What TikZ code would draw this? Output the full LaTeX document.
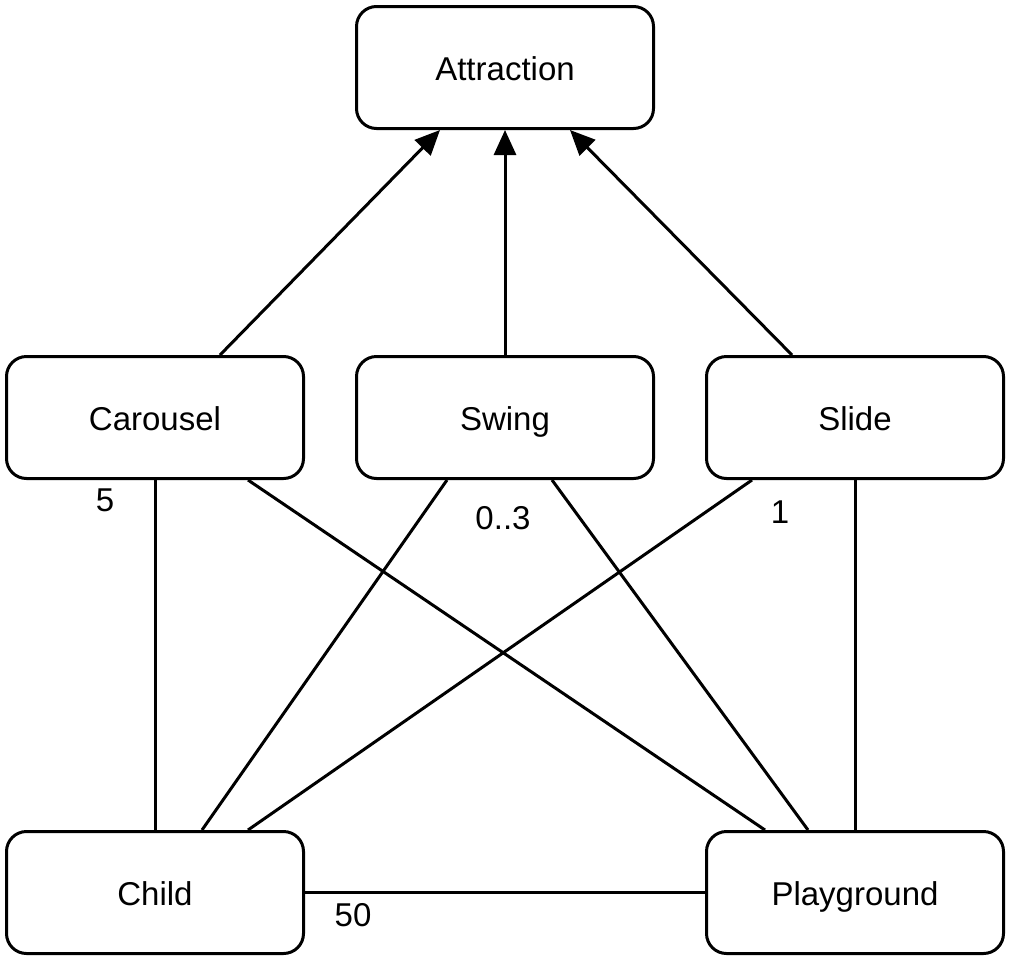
\documentclass[tikz,border=0pt]{standalone}
\usepackage{fontspec}
\setmainfont{Liberation Sans}
\usetikzlibrary{arrows.meta}
\begin{document}
\begin{tikzpicture}[x=1pt,y=-1pt,
  box/.style={draw=black, line width=3pt, rounded corners=20pt, minimum width=297pt, minimum height=122pt, inner sep=0pt, text height=30pt, text depth=5pt, font=\fontsize{33}{39}\selectfont},
  conn/.style={draw=black, line width=3pt},
  inh/.style={conn, -{Triangle[length=25pt,width=22pt]}},
  lbl/.style={font=\fontsize{33}{39}\selectfont, inner sep=0pt}]
\useasboundingbox (0,0) rectangle (1011,961);
\node[box] (attr) at (505,67.5) {Attraction};
\node[box] (car) at (155,417.5) {Carousel};
\node[box] (swing) at (505,417.5) {Swing};
\node[box] (slide) at (855,417.5) {Slide};
\node[box] (child) at (155,892.5) {Child};
\node[box] (play) at (855,892.5) {Playground};
\draw[inh] ([xshift=65pt]car.north) -- ([xshift=-65pt]attr.south);
\draw[inh] (swing.north) -- (attr.south);
\draw[inh] ([xshift=-63pt]slide.north) -- ([xshift=65pt]attr.south);
\draw[conn] (car.south) -- (child.north);
\draw[conn] ([xshift=93pt]car.south) -- ([xshift=-90pt]play.north);
\draw[conn] ([xshift=-58pt]swing.south) -- ([xshift=47pt]child.north);
\draw[conn] ([xshift=47pt]swing.south) -- ([xshift=-47pt]play.north);
\draw[conn] ([xshift=-103pt]slide.south) -- ([xshift=93pt]child.north);
\draw[conn] (slide.south) -- (play.north);
\draw[conn] (child.east) -- (play.west);
\node[lbl] (l5) at (105,500) {5};
\node[lbl] (l03) at (503,518) {0..3};
\node[lbl] (l1) at (780,512) {1};
\node[lbl] (l50) at (353,915) {50};
\end{tikzpicture}
\end{document}
